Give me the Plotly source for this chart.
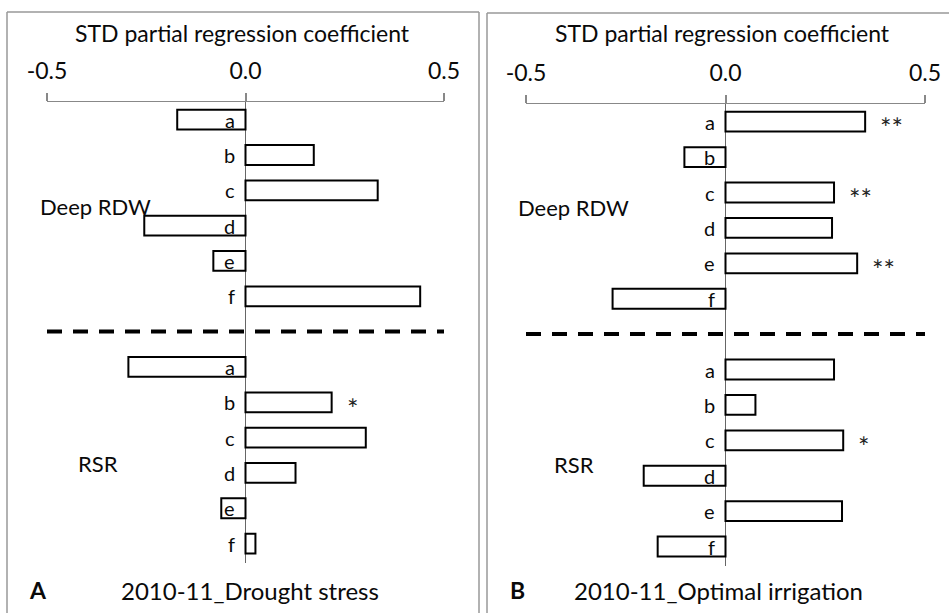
import plotly.graph_objects as go

W, H = 949, 613

letters = ["a", "b", "c", "d", "e", "f"]
deep_A = [-0.172, 0.172, 0.333, -0.255, -0.081, 0.44]
rsr_A = [-0.295, 0.217, 0.303, 0.126, -0.061, 0.025]
sig_deep_A = ["", "", "", "", "", ""]
sig_rsr_A = ["", "*", "", "", "", ""]

deep_B = [0.35, -0.103, 0.272, 0.267, 0.33, -0.283]
rsr_B = [0.272, 0.075, 0.295, -0.205, 0.292, -0.17]
sig_deep_B = ["**", "", "**", "", "**", ""]
sig_rsr_B = ["", "", "*", "", "", ""]

tick_vals = [-0.5, 0.0, 0.5]
tick_text = ["-0.5", "0.0", "0.5"]
axis_title = "STD partial regression coefficient"
group_names = ["Deep RDW", "RSR"]
panel_letters = ["A", "B"]
panel_titles = ["2010-11_Drought stress", "2010-11_Optimal irrigation"]

cats_deep = ["D_" + l for l in letters]
cats_rsr = ["R_" + l for l in letters]
categories = cats_deep + ["sep"] + cats_rsr

FONT = "Lato"
TXT = "#0a0a0a"
fig = go.Figure()

panels = [
    dict(deep=deep_A, rsr=rsr_A, sd=sig_deep_A, sr=sig_rsr_A, xa="x", ya="y"),
    dict(deep=deep_B, rsr=rsr_B, sd=sig_deep_B, sr=sig_rsr_B, xa="x2", ya="y2"),
]

annotations = []
for p in panels:
    vals = p["deep"] + p["rsr"]
    cats = cats_deep + cats_rsr
    fig.add_trace(go.Bar(
        x=vals, y=cats, orientation="h", width=0.56,
        marker=dict(color="white", line=dict(color="black", width=2)),
        xaxis=p["xa"], yaxis=p["ya"], showlegend=False, hoverinfo="x+y",
    ))
    fig.add_trace(go.Scatter(
        x=[tick_vals[0], tick_vals[-1]], y=["sep", "sep"], mode="lines",
        line=dict(color="black", width=4, dash="15px,11px"),
        xaxis=p["xa"], yaxis=p["ya"], showlegend=False, hoverinfo="skip",
    ))
    for c, l in zip(cats, letters + letters):
        annotations.append(dict(
            x=0, y=c, xref=p["xa"], yref=p["ya"], text=l, showarrow=False,
            xanchor="right", yanchor="middle", xshift=-9,
            font=dict(family=FONT, size=20, color=TXT),
        ))
    for c, v, s in zip(cats, vals, p["sd"] + p["sr"]):
        if s:
            annotations.append(dict(
                x=v, y=c, xref=p["xa"], yref=p["ya"], text=s, showarrow=False,
                xanchor="left", yanchor="middle", xshift=13, yshift=-6,
                font=dict(family=FONT, size=27, color="#222"),
            ))

def px_x(v):
    return v / W

def px_y(v):
    return 1 - v / H

def label(x, y, text, size, anchor="left"):
    annotations.append(dict(x=px_x(x), y=px_y(y), xref="paper", yref="paper",
                            text=text, showarrow=False, xanchor=anchor, yanchor="middle",
                            font=dict(family=FONT, size=size, color=TXT)))

for i in range(2):
    dy = 0 if i == 0 else 1
    label([38, 516][i], 206 + dy, group_names[0], 22)
    label([76, 552][i], 463 + dy, group_names[1], 22)
    label([27, 508][i], 590, "<b>" + panel_letters[i] + "</b>", 23)
    label([250, 718][i], 590, panel_titles[i], 24, "center")
    label([242, 722][i], 33, axis_title, 23, "center")

xax = dict(range=[-0.5, 0.5], side="top", showline=True, linecolor="#888", linewidth=1,
           ticks="outside", ticklen=8, tickcolor="#888", tickwidth=1.5,
           tickvals=tick_vals, ticktext=tick_text, ticklabelstandoff=5,
           tickfont=dict(family=FONT, size=23, color=TXT),
           showgrid=False, zeroline=True, zerolinecolor="#666", zerolinewidth=1.2,
           fixedrange=True, automargin=False)
yax = dict(type="category", categoryarray=categories, range=[12.55, -0.5],
           showticklabels=False, showgrid=False, zeroline=False, showline=False,
           ticks="", fixedrange=True, automargin=False)

shapes = []
border = dict(color="#999", width=1.5)
for seg in [((7, 12), (7, 613)), ((7, 12), (479, 12)), ((479, 12), (479, 613)),
            ((487, 13), (487, 613)), ((487, 13), (949, 13))]:
    (xa0, ya0), (xa1, ya1) = seg
    shapes.append(dict(type="line", xref="paper", yref="paper",
                       x0=px_x(xa0), y0=px_y(ya0), x1=px_x(xa1), y1=px_y(ya1), line=border))

fig.update_layout(
    width=W, height=H, autosize=False,
    margin=dict(l=0, r=0, t=0, b=0, pad=0, autoexpand=False),
    paper_bgcolor="white", plot_bgcolor="white",
    font=dict(family=FONT, color=TXT),
    xaxis=dict(xax, domain=[47 / W, 444 / W], anchor="y"),
    yaxis=dict(yax, domain=[px_y(563), px_y(102)], anchor="x"),
    xaxis2=dict(xax, domain=[526 / W, 925 / W], anchor="y2"),
    yaxis2=dict(yax, domain=[px_y(566), px_y(104)], anchor="x2"),
    annotations=annotations, shapes=shapes, bargap=0.4,
)

fig.write_html(
    "out.html",
    config={"displayModeBar": False},
    post_script="document.body.style.margin='0';document.body.style.overflow='hidden';",
)
